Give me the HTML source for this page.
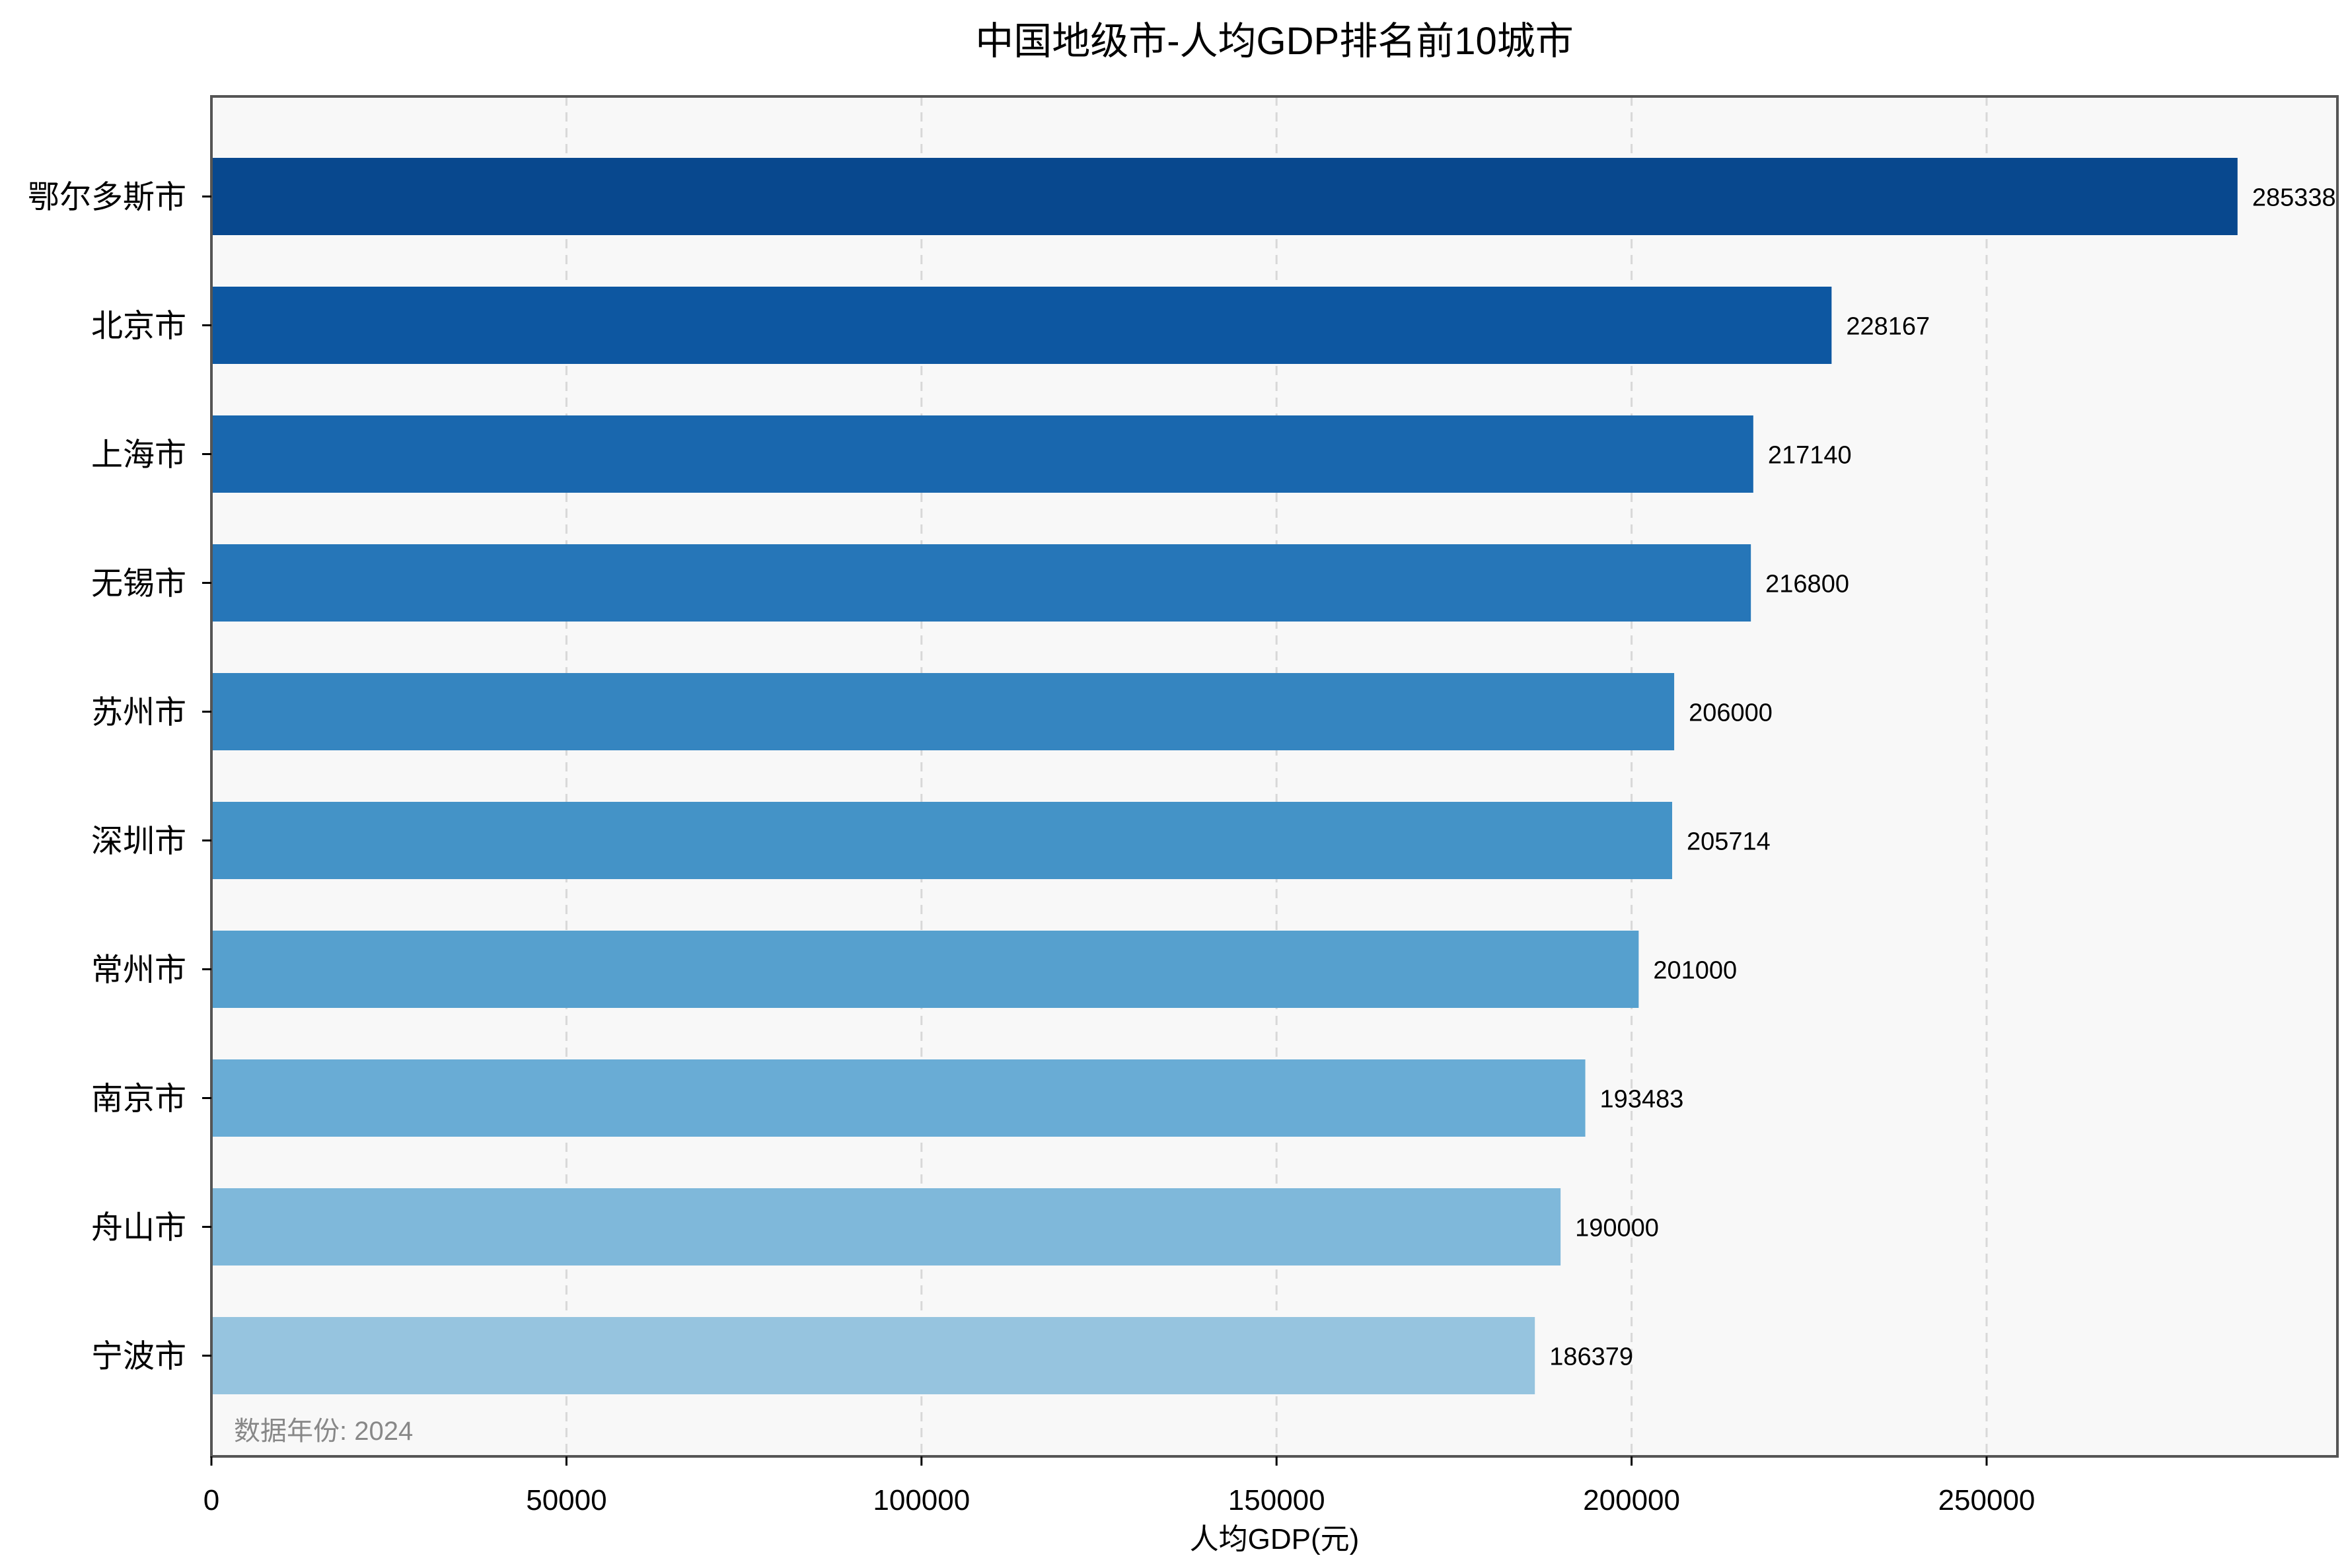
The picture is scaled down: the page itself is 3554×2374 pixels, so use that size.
<!DOCTYPE html>
<html><head><meta charset="utf-8"><style>
html,body{margin:0;padding:0;background:#fff;}
svg text{font-family:"WenQuanYi Zen Hei","Liberation Sans","Noto Sans CJK SC",sans-serif;}
</style></head><body>
<svg id="chart" width="3554" height="2369" viewBox="0 0 3554 2369" xmlns="http://www.w3.org/2000/svg">
<rect x="0" y="0" width="3554" height="2369" fill="#fff"/>
<text x="1929" y="82" font-size="58" text-anchor="middle" fill="#000">中国地级市-人均GDP排名前10城市</text>
<rect x="320" y="146" width="3218" height="2059" fill="#f8f8f8"/>
<g id="grid"></g>
<g id="bars"></g>
<rect x="320" y="146" width="3218" height="2059" fill="none" stroke="#555" stroke-width="4"/>
<g id="axes"></g>
<text x="354" y="2180" font-size="40" fill="#888">数据年份: 2024</text>
<text x="1929" y="2345" font-size="44" text-anchor="middle" fill="#000">人均GDP(元)</text>
</svg>
<script>
const cities = ["鄂尔多斯市","北京市","上海市","无锡市","苏州市","深圳市","常州市","南京市","舟山市","宁波市"];
const values = [285338,228167,217140,216800,206000,205714,201000,193483,190000,186379];
const xTicks = [0,50000,100000,150000,200000,250000];
const colors = ["#08488e","#0d57a1","#1967ae","#2676b8","#3585c0","#4493c7","#56a0ce","#69acd5","#7fb8da","#96c4df"];

const NS = "http://www.w3.org/2000/svg";
const X0 = 320, X1 = 3538, Y0 = 146, Y1 = 2205;
const xMax = 250000 * (X1 - X0) / (3007 - X0);
function xScale(v){ return X0 + v / xMax * (X1 - X0); }
const step = 195, firstCenter = 297.5, barH = 117;
function yScale(i){ return firstCenter + i * step; }
function mk(tag, attrs, parent){ const e=document.createElementNS(NS,tag); for(const k in attrs) e.setAttribute(k,attrs[k]); parent.appendChild(e); return e; }

const grid = document.getElementById('grid'), bars = document.getElementById('bars'), axes = document.getElementById('axes');
xTicks.forEach((t,i)=>{
  const x = xScale(t);
  if (t>0){
    const g = mk('line',{x1:x,x2:x,y1:Y0,y2:Y1,stroke:'#d8d8d8','stroke-width':3,'stroke-dasharray':'14,10'},grid);
    
    
  }
  const tk = mk('line',{x1:x,x2:x,y1:Y1,y2:Y1+14,stroke:'#000','stroke-width':3},axes);
  
  
  const lb = mk('text',{x:x,y:2286,'font-size':44,'text-anchor':'middle',fill:'#000'},axes);
  lb.textContent = String(t);
  
  
});
cities.forEach((c,i)=>{
  const cy = yScale(i);
  const r = mk('rect',{x:X0,y:cy-barH/2,width:xScale(values[i])-X0,height:barH,fill:colors[i]},bars);
  
  
  const v = mk('text',{x:xScale(values[i])+22,y:cy+14,'font-size':38,fill:'#000'},bars);
  v.textContent = String(values[i]);
  
  
  const tk = mk('line',{x1:X0-14,x2:X0,y1:cy,y2:cy,stroke:'#000','stroke-width':3},axes);
  
  
  const lb = mk('text',{x:282,y:cy+17,'font-size':48,'text-anchor':'end',fill:'#000'},axes);
  lb.textContent = c;
  
  
});
</script>
</body></html>
